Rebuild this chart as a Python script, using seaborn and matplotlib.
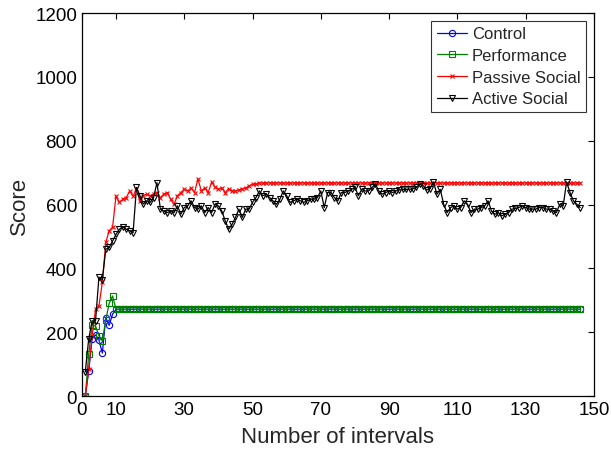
import numpy as np
import pandas as pd
import matplotlib
matplotlib.use("Agg")
import matplotlib.pyplot as plt
import seaborn as sns

n_points = 146
intervals = list(range(1, n_points + 1))

control = [0, 78, 180, 192, 176, 135, 246, 222, 257] + [272] * (n_points - 9)
performance = [0, 131, 222, 220, 189, 173, 239, 291, 314] + [272] * (n_points - 9)

passive_social = (
    [0, 85, 189, 272, 283, 357, 482, 518, 530]
    + [627, 607, 617, 622, 643, 627, 648, 610, 628, 633,
       628, 633, 638, 622, 633, 638, 617, 601, 628]
    + [638, 648, 643, 652, 638, 680, 643, 652, 638, 670,
       655, 648, 652, 638, 650, 643, 643, 646, 650, 652,
       659, 664, 664]
    + [668] * 95
)

active_social = (
    [76, 179, 236, 236, 373, 365, 460, 466, 486, 507,
     523, 531, 523, 518, 512, 654, 628, 602, 612, 607,
     622, 669, 586, 580, 575, 580, 575, 596]
    + [570, 591, 596, 612, 591, 586, 596, 575, 591, 575,
       601, 596, 580, 549, 523, 538, 560, 586, 560, 586,
       586, 607, 622, 643, 628, 633, 622, 612, 601, 617,
       643, 628, 607, 612, 617, 612, 607, 612, 617, 617,
       622, 643, 591, 638, 638, 622, 612, 638, 638, 643,
       648, 654, 628, 648, 643, 643, 654, 664, 643, 633,
       638, 643]
    + [638, 643, 646, 648, 648, 648, 650, 654, 664, 659,
       646, 650, 671, 633, 648, 601, 575, 591, 596, 586,
       591, 612, 601, 575, 586, 586, 591, 596, 612, 580,
       570, 575, 565, 570, 575, 586, 588, 591, 596, 591,
       586, 586, 586, 591, 591, 586, 586, 580, 575, 601,
       596, 671, 638, 612, 601, 591]
)

df = pd.DataFrame({
    "interval": intervals,
    "Control": control,
    "Performance": performance,
    "Passive Social": passive_social,
    "Active Social": active_social,
})

sns.set_style("white")
plt.rcParams["font.family"] = ["Liberation Sans", "DejaVu Sans"]

fig = plt.figure(figsize=(6.11, 4.56), dpi=100)
ax = fig.add_axes([0.134, 0.129, 0.838, 0.84])

styles = {
    "Control": dict(color="#0000ff", marker="o", mfc="none", ms=4.5),
    "Performance": dict(color="#008000", marker="s", mfc="none", ms=4.5),
    "Passive Social": dict(color="#ff0000", marker="x", ms=3.5),
    "Active Social": dict(color="#000000", marker="v", mfc="none", ms=5),
}

for name, st in styles.items():
    sns.lineplot(x="interval", y=name, data=df, ax=ax, label=name,
                 color=st["color"], marker=st["marker"],
                 markerfacecolor=st.get("mfc", st["color"]),
                 markeredgecolor=st["color"], markersize=st["ms"],
                 markeredgewidth=0.8, linewidth=0.9)

ax.set_xlim(0, 150)
ax.set_ylim(0, 1200)
ax.set_xticks([0, 10, 30, 50, 70, 90, 110, 130, 150])
ax.set_yticks(range(0, 1201, 200))
ax.tick_params(direction="in", length=4, width=0.8, top=True, right=True,
               labelsize=13.5, colors="black")
for sp in ax.spines.values():
    sp.set_visible(True)
    sp.set_color("black")
    sp.set_linewidth(0.9)
ax.set_xlabel("Number of intervals", fontsize=16, labelpad=6)
ax.set_ylabel("Score", fontsize=16)

leg = ax.legend(loc="upper right", fontsize=12, frameon=True, fancybox=False,
                edgecolor="black", borderaxespad=0.45, handlelength=1.8,
                handletextpad=0.3, labelspacing=0.4, borderpad=0.35)
leg.get_frame().set_linewidth(0.8)

fig.savefig("out.png", dpi=100)
